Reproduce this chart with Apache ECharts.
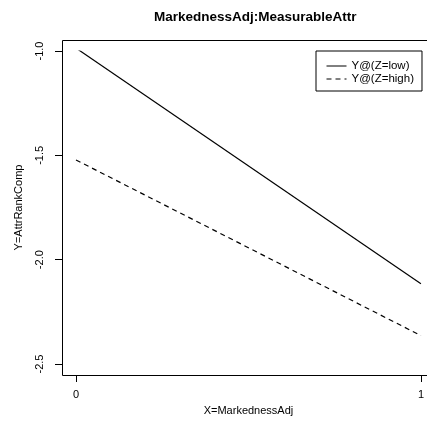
<!DOCTYPE html>
<html>
<head>
<meta charset="utf-8">
<script src="https://cdn.jsdelivr.net/npm/echarts@6/dist/echarts.min.js"></script>
<style>html,body{margin:0;padding:0;background:#fff}#c{width:427px;height:432px}</style>
</head>
<body>
<div id="c"></div>
<script>
const titleText = 'MarkednessAdj:MeasurableAttr';
const xName = 'X=MarkednessAdj';
const yName = 'Y=AttrRankComp';
const xValues = [0, 1];
const lowValues = [-0.986, -2.115];
const highValues = [-1.522, -2.364];
const seriesNames = ['Y@(Z=low)', 'Y@(Z=high)'];
const yTicks = [-2.5, -2.0, -1.5, -1.0];
const xTicks = [0, 1];

const FONT = '"Liberation Sans", Arial, Helvetica, sans-serif';
const chart = echarts.init(document.getElementById('c'), null, {renderer: 'canvas'});
const toPairs = (xs, ys) => xs.map((x, i) => [x, ys[i]]);

chart.setOption({
  animation: false,
  backgroundColor: '#fff',
  title: {
    text: titleText,
    left: 149, top: 5,
    textStyle: {fontFamily: FONT, fontWeight: 'bold', fontSize: 13.5, color: '#000'}
  },
  legend: {
    orient: 'vertical',
    left: 316, top: 51,
    padding: [9, 8, 6, 10],
    itemGap: 1,
    itemWidth: 20, itemHeight: 11,
    borderColor: '#000', borderWidth: 1,
    itemStyle: {opacity: 0},
    lineStyle: {width: 1},
    textStyle: {fontFamily: FONT, fontSize: 11.5, color: '#000'},
    data: seriesNames
  },
  graphic: [
    {type: 'rect', silent: true, z: 0,
     shape: {x: 62.5, y: 40.5, width: 373, height: 335},
     style: {fill: 'none', stroke: '#000', lineWidth: 1}}
  ],
  grid: [
    {left: 76, top: 51, width: 345, height: 313}
  ],
  xAxis: [
    {type: 'value', min: xTicks[0], max: xTicks[xTicks.length - 1], interval: 1,
     offset: 11,
     name: xName, nameLocation: 'middle', nameGap: 30,
     nameTextStyle: {fontFamily: FONT, fontSize: 11, color: '#000'},
     axisLine: {show: true, onZero: false, lineStyle: {color: '#000', width: 1}},
     axisTick: {show: true, length: 7, lineStyle: {color: '#000'}},
     axisLabel: {margin: 14, fontFamily: FONT, fontSize: 11, color: '#000'},
     splitLine: {show: false}}
  ],
  yAxis: [
    {type: 'value', min: yTicks[0], max: yTicks[yTicks.length - 1], interval: 0.5,
     offset: 14,
     name: yName, nameLocation: 'middle', nameGap: 38, nameRotate: 90,
     nameTextStyle: {fontFamily: FONT, fontSize: 11, color: '#000'},
     axisLine: {show: true, onZero: false, lineStyle: {color: '#000', width: 1}},
     axisTick: {show: true, length: 7, lineStyle: {color: '#000'}},
     axisLabel: {margin: 17, rotate: 90, fontFamily: FONT, fontSize: 11, color: '#000',
                 formatter: v => v.toFixed(1)},
     splitLine: {show: false}}
  ],
  series: [
    {name: seriesNames[0], type: 'line', symbol: 'none',
     data: toPairs(xValues, lowValues),
     lineStyle: {color: '#000', width: 1.2, type: 'solid'}, itemStyle: {color: '#000'}},
    {name: seriesNames[1], type: 'line', symbol: 'none',
     data: toPairs(xValues, highValues),
     lineStyle: {color: '#000', width: 1.2, type: [5, 4]}, itemStyle: {color: '#000'}}
  ]
});
</script>
</body>
</html>
